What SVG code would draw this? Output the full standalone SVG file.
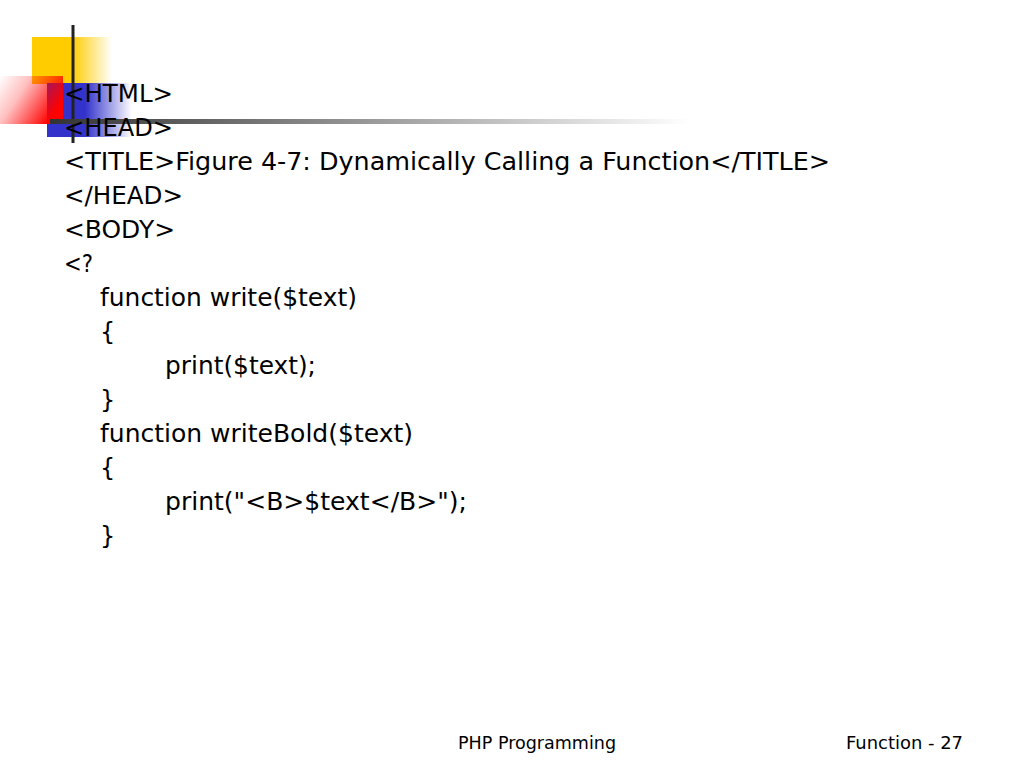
<svg xmlns="http://www.w3.org/2000/svg" width="1024" height="768" viewBox="0 0 1024 768">
<defs>
<linearGradient id="gy" x1="0" y1="0" x2="1" y2="0">
<stop offset="0" stop-color="#FFCC00"/><stop offset="0.5" stop-color="#FFCC00"/><stop offset="1" stop-color="#FFCC00" stop-opacity="0"/>
</linearGradient>
<linearGradient id="gb" x1="0" y1="0" x2="1" y2="0">
<stop offset="0" stop-color="#3333CC"/><stop offset="0.45" stop-color="#3333CC"/><stop offset="1" stop-color="#3333CC" stop-opacity="0"/>
</linearGradient>
<linearGradient id="gr" x1="0" y1="0" x2="1" y2="0.5">
<stop offset="0" stop-color="#FF0000" stop-opacity="0"/><stop offset="0.4" stop-color="#FF0000" stop-opacity="0.25"/><stop offset="1" stop-color="#FF0000"/>
</linearGradient>
<linearGradient id="gl" x1="0" y1="0" x2="1" y2="0">
<stop offset="0" stop-color="#333333"/><stop offset="1" stop-color="#FFFFFF"/>
</linearGradient>
<style>
.t{font-family:"DejaVu Sans",sans-serif;font-size:24px;fill:#000}
.f{font-family:"DejaVu Sans",sans-serif;font-size:18px;fill:#000}
</style>
</defs>
<rect width="1024" height="768" fill="#fff"/>
<g id="decoration">
<rect x="32" y="37" width="80" height="47" fill="url(#gy)"/>
<rect x="47" y="83" width="85" height="54" fill="url(#gb)"/>
<rect x="0" y="76" width="63" height="48" fill="url(#gr)"/>
<rect x="71.5" y="25" width="3" height="118" fill="#222"/>
<rect x="50" y="119" width="640" height="5" fill="url(#gl)"/>
</g>
<g id="code">
<text class="t" x="64" y="102" textLength="109" lengthAdjust="spacingAndGlyphs">&lt;HTML&gt;</text>
<text class="t" x="64" y="136" textLength="109" lengthAdjust="spacingAndGlyphs">&lt;HEAD&gt;</text>
<text class="t" x="64" y="170" textLength="766" lengthAdjust="spacingAndGlyphs">&lt;TITLE&gt;Figure 4-7: Dynamically Calling a Function&lt;/TITLE&gt;</text>
<text class="t" x="64" y="204" textLength="119" lengthAdjust="spacingAndGlyphs">&lt;/HEAD&gt;</text>
<text class="t" x="64" y="238" textLength="111" lengthAdjust="spacingAndGlyphs">&lt;BODY&gt;</text>
<text class="t" x="64" y="272" textLength="29" lengthAdjust="spacingAndGlyphs">&lt;?</text>
<text class="t" x="100" y="306" textLength="257" lengthAdjust="spacingAndGlyphs">function write($text)</text>
<text class="t" x="100" y="340">{</text>
<text class="t" x="165" y="374" textLength="151" lengthAdjust="spacingAndGlyphs">print($text);</text>
<text class="t" x="100" y="408">}</text>
<text class="t" x="100" y="442" textLength="313" lengthAdjust="spacingAndGlyphs">function writeBold($text)</text>
<text class="t" x="100" y="476">{</text>
<text class="t" x="165" y="510" textLength="302" lengthAdjust="spacingAndGlyphs">print("&lt;B&gt;$text&lt;/B&gt;");</text>
<text class="t" x="100" y="544">}</text>
</g>
<g id="footer">
<text class="f" x="458" y="749" textLength="158" lengthAdjust="spacingAndGlyphs">PHP Programming</text>
<text class="f" x="846" y="749" textLength="117" lengthAdjust="spacingAndGlyphs">Function - 27</text>
</g>
</svg>
